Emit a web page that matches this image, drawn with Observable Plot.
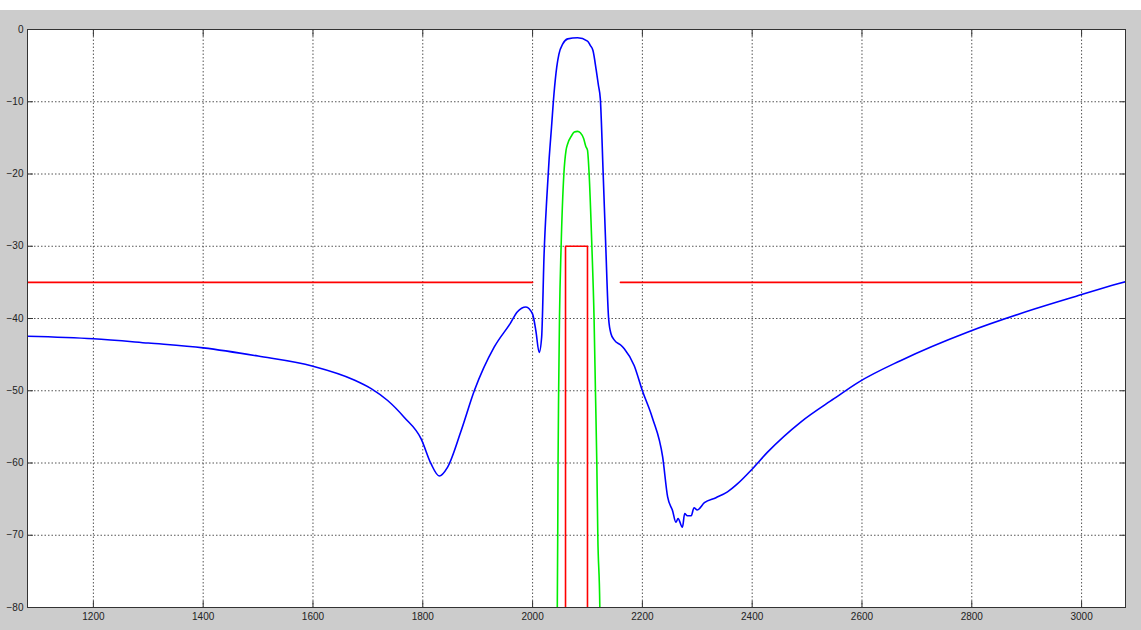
<!DOCTYPE html>
<html><head><meta charset="utf-8">
<script src="https://cdn.jsdelivr.net/npm/d3@7"></script>
<script src="https://cdn.jsdelivr.net/npm/@observablehq/plot@0.6"></script>
<style>
html,body{margin:0;padding:0;background:#fff;}
#chart{padding-top:10px;}
#chart svg{display:block;}
</style></head><body><div id="chart"></div>
<script>
// Blue: measured response (frequency, level)
const blueFreq = [1080,1200,1300,1400,1500,1600,1675,1706,1736,1766,1797,1815,1830,1845,1870,1894,1930,1960,1972,1988,2000,2006,2012,2016.5,2021,2026,2030,2034.5,2039,2044,2048,2055,2064,2082,2100,2105,2110,2116,2120,2123.4,2128.6,2133.3,2138.5,2142.8,2149,2161,2167,2185,2200,2218,2237,2246,2255,2261,2265,2273,2277,2282,2289,2294,2300,2313,2334,2355,2373,2398,2428,2489,2549,2594,2671,2792,2914,2989,3066,3080];
const blueLevel = [-42.45,-42.8,-43.4,-44.06,-45.2,-46.6,-48.5,-49.7,-51.35,-53.66,-56.65,-60.1,-61.8,-60.6,-55.5,-49.97,-43.97,-40.6,-39.1,-38.4,-39.4,-41.7,-44.7,-42.6,-31.0,-23.2,-18.1,-13.5,-8.9,-5.2,-3.4,-2.0,-1.3,-1.15,-1.6,-2.2,-2.9,-5.67,-7.75,-9.6,-20,-30,-40,-42.1,-43.0,-43.7,-44.2,-46.5,-50,-53.7,-59.2,-64.7,-66.6,-68.2,-67.7,-68.9,-67.0,-67.3,-67.3,-66.2,-66.5,-65.5,-64.8,-64.0,-62.9,-61.0,-58.5,-54.3,-51.1,-48.8,-45.8,-41.9,-38.7,-36.95,-35.2,-34.9];

// Green: channel signal
const greenFreq = [2044,2045,2045.8,2046.4,2047.5,2049,2052,2057,2061,2064,2071,2076,2082,2087,2093,2097,2100,2103,2108,2112,2114.5,2117,2118.8,2122.5,2124];
const greenLevel = [-90,-80,-70,-60,-50,-40,-30,-20,-16.7,-15.8,-14.7,-14.2,-14.1,-14.3,-15.1,-16.2,-16.7,-20,-30,-40,-50,-60,-70,-80,-90];

// Red: mask (NaN separates segments)
const maskFreq = [1080,2000,NaN,2060,2060,2100,2100,NaN,2160,3000];
const maskLevel = [-35,-35,NaN,-90,-30,-30,-90,NaN,-35,-35];

const xTicks = [1200,1400,1600,1800,2000,2200,2400,2600,2800,3000];
const yTicks = [0,-10,-20,-30,-40,-50,-60,-70,-80];

const toRows = (xs, ys) => xs.map((x, i) => ({x, y: ys[i]}));
const blue = toRows(blueFreq, blueLevel);
const green = toRows(greenFreq, greenLevel);
const mask = toRows(maskFreq, maskLevel);

const lineOpts = {x: "x", y: "y", strokeWidth: 1.6, clip: true};
const noText = () => "";

const chart = Plot.plot({
  width: 1141, height: 620,
  marginLeft: 27, marginRight: 16, marginTop: 19, marginBottom: 23,
  style: {background: "#cccccc", fontFamily: "'Liberation Sans', Arial, sans-serif", fontSize: "10px", color: "#222"},
  x: {domain: [1080, 3080], ticks: xTicks, tickFormat: "d"},
  y: {domain: [-80, 0], ticks: yTicks},
  marks: [
    Plot.frame({fill: "white", stroke: null}),
    Plot.gridX(xTicks, {stroke: "#555", strokeOpacity: 1, strokeDasharray: "1.5,2"}),
    Plot.gridY(yTicks, {stroke: "#555", strokeOpacity: 1, strokeDasharray: "1.5,2"}),
    Plot.line(green, {...lineOpts, stroke: "#00ee00", curve: "monotone-x"}),
    Plot.line(mask, {...lineOpts, stroke: "#ff0000", curve: "linear"}),
    Plot.line(blue, {...lineOpts, stroke: "#0000ff", curve: "monotone-x"}),
    // labels
    Plot.axisX(xTicks, {anchor: "bottom", tickSize: 0, tickPadding: 5, tickFormat: "d", label: null, fill: "#222"}),
    Plot.axisY(yTicks, {anchor: "left", tickSize: 0, tickPadding: 4, label: null, fill: "#222"}),
    // inward tick marks on all four sides
    Plot.axisX(xTicks, {anchor: "bottom", tickSize: 6, dy: -6, tickFormat: noText, label: null, stroke: "#333"}),
    Plot.axisX(xTicks, {anchor: "top", tickSize: 6, dy: 6, tickFormat: noText, label: null, stroke: "#333"}),
    Plot.axisY(yTicks, {anchor: "left", tickSize: 6, dx: 6, tickFormat: noText, label: null, stroke: "#333"}),
    Plot.axisY(yTicks, {anchor: "right", tickSize: 6, dx: -6, tickFormat: noText, label: null, stroke: "#333"}),
    Plot.frame({stroke: "#333"})
  ]
});
document.getElementById("chart").append(chart);
</script>
</body></html>
